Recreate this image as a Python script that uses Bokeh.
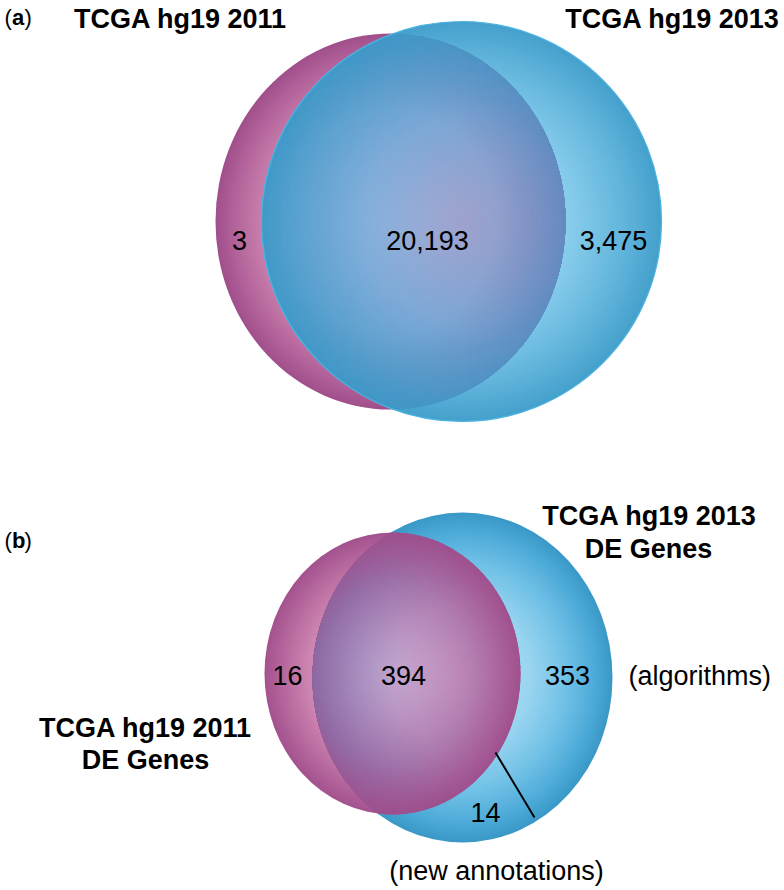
import numpy as np
from bokeh.plotting import figure
from bokeh.models import Range1d, ColumnDataSource
from bokeh.core.properties import value
from bokeh.embed import file_html
from bokeh.resources import INLINE

# ---------------- data ----------------
panel_labels = ["a", "b"]
a_set_names = ["TCGA hg19 2011", "TCGA hg19 2013"]
a_counts = ["3", "20,193", "3,475"]          # 2011 only, both, 2013 only
b_set_names_2013 = ["TCGA hg19 2013", "DE Genes"]
b_set_names_2011 = ["TCGA hg19 2011", "DE Genes"]
b_counts = ["16", "394", "353", "14"]        # 2011 only, both, 2013 only (algorithms), 2013 only (new annotations)
b_notes = ["(algorithms)", "(new annotations)"]

# ---------------- layout (page pixel coords) ----------------
A_MAG = (390, 221, 175, 188)
A_BLU = (461, 221, 200, 200)
B_BLU = (462, 677, 150, 165)
B_MAG = (392, 673, 128, 141)

# gradient styles: (stop positions, colours) along the normalised radius
A_MAG_FILL = ([0, 0.6, 0.75, 0.9, 1.0], ["#e3b3d6", "#d699c2", "#c77dab", "#b2629a", "#a04f8b"])
A_BLU_FILL = ([0, 0.5, 1.0], ["#5aa5d5", "#42b0e2", "#3a9bc9"])
A_BLU_ALPHA = ([0, 0.5, 0.8, 1.0], [0.45, 0.6, 0.8, 0.95])
B_BLU_FILL = ([0, 0.45, 0.7, 0.9, 1.0], ["#b5e0f5", "#9ad5f0", "#6fc0e6", "#4aa8d6", "#3a98c6"])
B_MAG_FILL = ([0, 0.63, 1.0], ["#f070a8", "#b84e8e", "#a04d8b"])
B_MAG_ALPHA = ([0, 0.63, 0.85, 1.0], [0.45, 0.665, 0.85, 0.97])

FONT = value("Liberation Sans")
W, H = 784, 890

p = figure(width=W, height=H, x_range=Range1d(0, W), y_range=Range1d(H, 0),
           output_backend="svg", toolbar_location=None, min_border=0,
           x_axis_type=None, y_axis_type=None)
p.grid.visible = False
p.outline_line_color = None
p.background_fill_color = "white"
p.border_fill_color = "white"


def hex2rgb(h):
    return np.array([int(h[i:i + 2], 16) for i in (1, 3, 5)], float)


def rgb_at(stops, t):
    st, sc = stops
    rgb = np.array([hex2rgb(c) for c in sc])
    t = np.atleast_1d(np.asarray(t, float))
    return np.stack([np.interp(t, st, rgb[:, k]) for k in range(3)], axis=1)


def alpha_at(stops, t):
    return np.interp(np.atleast_1d(np.asarray(t, float)), stops[0], stops[1])


def to_hex(arr):
    return ["#%02x%02x%02x" % tuple(int(round(min(255, max(0, v)))) for v in row) for row in arr]


def stacked_discs(geom, rgb_fn, n=80):
    cx, cy, rx, ry = geom
    ts = np.linspace(1, 1.0 / n, n)
    cols = to_hex(rgb_fn(ts - 0.5 / n))
    src = ColumnDataSource(dict(x=[cx] * n, y=[cy] * n, w=2 * rx * ts, h=2 * ry * ts, c=cols))
    p.ellipse(x="x", y="y", width="w", height="h", fill_color="c", line_color=None, source=src)


def _isect(px, py, qx, qy, ax, ay, bx, by):
    dx1, dy1 = qx - px, qy - py
    dx2, dy2 = bx - ax, by - ay
    den = dx1 * dy2 - dy1 * dx2
    if den == 0:
        return (qx, qy)
    s = ((ax - px) * dy2 - (ay - py) * dx2) / den
    return (px + s * dx1, py + s * dy1)


def clip_poly(subject, clip):
    out = subject
    for i in range(len(clip)):
        ax, ay = clip[i - 1]
        bx, by = clip[i]
        inp, out = out, []
        if not inp:
            break
        for j in range(len(inp)):
            px, py = inp[j - 1]
            qx, qy = inp[j]
            ip = (bx - ax) * (py - ay) - (by - ay) * (px - ax) >= 0
            iq = (bx - ax) * (qy - ay) - (by - ay) * (qx - ax) >= 0
            if iq:
                if not ip:
                    out.append(_isect(px, py, qx, qy, ax, ay, bx, by))
                out.append((qx, qy))
            elif ip:
                out.append(_isect(px, py, qx, qy, ax, ay, bx, by))
    return out


def layered_venn(bottom, bottom_fill, top, top_fill, top_alpha, n_t=40, n_th=120):
    """bottom set drawn opaque, top set semi transparent (composited explicitly)."""
    bx, by, brx, bry = bottom
    tx, ty, trx, tr_y = top

    # bottom set
    stacked_discs(bottom, lambda t: rgb_at(bottom_fill, t))
    # top set as seen over white paper
    stacked_discs(top, lambda t: alpha_at(top_alpha, t)[:, None] * rgb_at(top_fill, t)
                  + (1 - alpha_at(top_alpha, t))[:, None] * 255.0)
    # overlap: top set composited over bottom set
    thc = np.linspace(0, 2 * np.pi, 140, endpoint=False)
    clip = list(zip(bx + brx * np.cos(thc), by + bry * np.sin(thc)))
    xs, ys, cols = [], [], []
    dth = 2 * np.pi / n_th
    for t in np.linspace(1, 1.0 / n_t, n_t):
        tm = t - 0.5 / n_t
        a_top = float(alpha_at(top_alpha, tm)[0])
        c_top = rgb_at(top_fill, tm)[0]
        for j in range(n_th):
            a0 = j * dth
            arc = np.linspace(a0, a0 + dth * 1.2, 4)
            px = tx + trx * t * np.cos(arc)
            py = ty + tr_y * t * np.sin(arc)
            pts = [(tx, ty)] + list(zip(px.tolist(), py.tolist()))
            inside = bool((((px - bx) / brx) ** 2 + ((py - by) / bry) ** 2 <= 1).all())
            poly = pts if inside else clip_poly(pts, clip)
            if len(poly) < 3:
                continue
            am = a0 + 0.5 * dth
            mx = tx + trx * tm * np.cos(am)
            my = ty + tr_y * tm * np.sin(am)
            tb = min(1.0, float(np.sqrt(((mx - bx) / brx) ** 2 + ((my - by) / bry) ** 2)))
            col = a_top * c_top + (1 - a_top) * rgb_at(bottom_fill, tb)[0]
            xs.append([float(q[0]) for q in poly])
            ys.append([float(q[1]) for q in poly])
            cols.append(to_hex([col])[0])
    src = ColumnDataSource(dict(xs=xs, ys=ys, c=cols))
    p.patches(xs="xs", ys="ys", fill_color="c", line_color=None, source=src)


# ---------------- panel (a) ----------------
layered_venn(A_MAG, A_MAG_FILL, A_BLU, A_BLU_FILL, A_BLU_ALPHA)
p.ellipse(x=[A_BLU[0]], y=[A_BLU[1]], width=[2 * A_BLU[2]], height=[2 * A_BLU[3]],
          fill_color=None, line_color="#4cb3e0", line_width=1.3)

# ---------------- panel (b) ----------------
layered_venn(B_BLU, B_BLU_FILL, B_MAG, B_MAG_FILL, B_MAG_ALPHA)

# leader line for new annotations
p.line(x=[495, 534], y=[752, 817], line_color="black", line_width=2)


# ---------------- texts ----------------
def txt(x, y, s, size, bold=False, align="center"):
    p.text(x=[x], y=[y], text=[s], text_font=FONT, text_font_size=size,
           text_font_style="bold" if bold else "normal", text_align=align,
           text_baseline="middle", text_color="black")


for lab, yy in zip(panel_labels, [17, 540]):
    txt(4, yy, "(", "22px", align="left")
    txt(11.5, yy, lab, "22px", bold=True, align="left")
    txt(24, yy, ")", "22px", align="left")

txt(180, 18, a_set_names[0], "27px", bold=True)
txt(672, 18, a_set_names[1], "27px", bold=True)
txt(239, 240, a_counts[0], "27px")
txt(427, 240, a_counts[1], "27px")
txt(613, 240, a_counts[2], "27px")

txt(649, 515, b_set_names_2013[0], "27px", bold=True)
txt(648, 548, b_set_names_2013[1], "27px", bold=True)
txt(145, 727, b_set_names_2011[0], "27px", bold=True)
txt(145, 759, b_set_names_2011[1], "27px", bold=True)
txt(287, 675, b_counts[0], "27px")
txt(403, 675, b_counts[1], "27px")
txt(567, 675, b_counts[2], "27px")
txt(485, 812, b_counts[3], "27px")
txt(628, 675, b_notes[0], "27px", align="left")
txt(496, 870, b_notes[1], "27px")

open("out.html", "w").write(file_html(p, INLINE))
